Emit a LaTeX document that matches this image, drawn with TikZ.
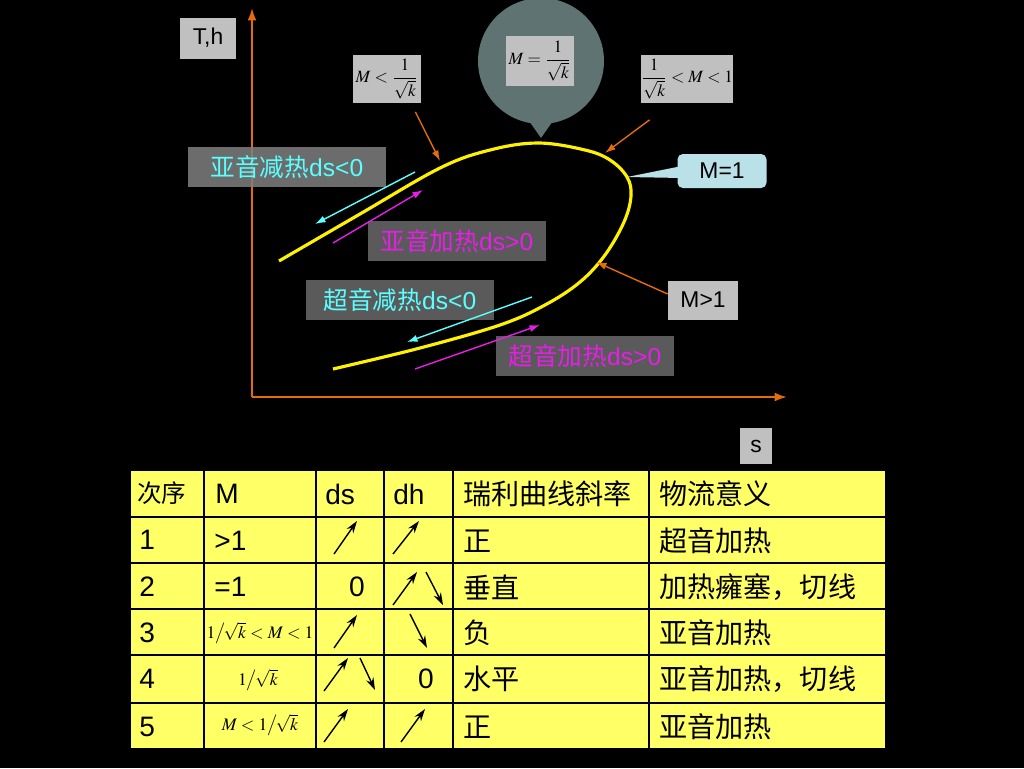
\documentclass[tikz,border=0pt]{standalone}
\usepackage{mathptmx}
\usepackage{fontspec}
\setmainfont{Liberation Sans}
\newfontfamily\cjk{Noto Sans CJK SC}
\usetikzlibrary{arrows.meta}
\definecolor{axisorange}{RGB}{228,108,10}
\definecolor{boxgray}{RGB}{192,192,192}
\definecolor{flowgray}{RGB}{90,90,90}
\definecolor{topgray}{RGB}{128,128,128}
\definecolor{bubblegray}{RGB}{96,115,115}
\definecolor{machblue}{RGB}{186,224,232}
\definecolor{cellyellow}{RGB}{255,255,102}
\definecolor{coolcyan}{RGB}{90,255,255}
\definecolor{heatmagenta}{RGB}{230,30,230}
\tikzstyle{axis}=[draw=axisorange,line width=1.1pt,-{Latex[length=7pt,width=5pt]}]
\tikzstyle{pointer}=[draw=axisorange,line width=0.8pt,-{Latex[length=6pt,width=4pt]}]
\tikzstyle{tag}=[fill=boxgray,inner sep=0pt,text=black]
\tikzstyle{frac}=[font=\fontsize{9.8}{11}\selectfont]
\tikzstyle{flow}=[fill=flowgray,inner sep=0pt,minimum height=0.8cm,font=\fontsize{14}{16}\selectfont]
\tikzstyle{cool}=[draw=coolcyan,line width=0.8pt,-{Latex[length=6pt,width=4pt]}]
\tikzstyle{heat}=[draw=heatmagenta,line width=0.8pt,-{Latex[length=6pt,width=4pt]}]
\tikzstyle{slope}=[draw=black,line width=0.8pt,-{Stealth[length=7pt,width=4.5pt]}]
\tikzstyle{cell}=[anchor=west,inner sep=0pt,font=\fontsize{16}{18}\selectfont]
\tikzstyle{rule}=[draw=black,line width=1pt]

\begin{document}
\begin{tikzpicture}[x=0.02cm,y=-0.02cm]
\fill[black] (0,0) rectangle (1024,768);
\useasboundingbox (0,0) rectangle (1024,768);
\coordinate (origin) at (252,397);
\coordinate (ytip) at (252,8);
\coordinate (xtip) at (787,397);
\coordinate (hitLow) at (440,161);
\coordinate (hitMid) at (605,153);
\coordinate (hitSup) at (596,262);
\coordinate (sonic) at (627,177);
\coordinate (peak) at (541,138);
\draw[axis] (origin) -- (ytip);
\draw[axis] (origin) -- (xtip);
\node[tag,minimum width=1.12cm,minimum height=0.82cm,font=\fontsize{13}{15}\selectfont] (Th) at (208,38) {T,h};
\node[tag,minimum width=0.64cm,minimum height=0.72cm,font=\fontsize{13}{15}\selectfont] (s) at (756,446) {s};
\node[circle,fill=bubblegray,minimum size=2.52cm,inner sep=0pt] (bubble) at (541,61) {};
\fill[bubblegray] (520,108) -- (peak) -- (562,108) -- cycle;
\node[tag,frac,minimum width=1.36cm,minimum height=1cm] (eqM) at (540,61) {$\displaystyle M=\frac{1}{\sqrt{k}}$};
\node[tag,frac,minimum width=1.36cm,minimum height=0.98cm] (lowM) at (387,79) {$\displaystyle M<\frac{1}{\sqrt{k}}$};
\node[tag,frac,minimum width=1.84cm,minimum height=0.98cm] (midM) at (687,79) {$\displaystyle \frac{1}{\sqrt{k}}<M<1$};
\node[fill=machblue,rounded corners=3pt,minimum width=1.78cm,minimum height=0.68cm,inner sep=0pt,font=\fontsize{13}{15}\selectfont] (Mone) at (722,171) {M=1};
\fill[machblue] ([xshift=0.1cm,yshift=0.1cm]Mone.west) -- (sonic) -- ([xshift=0.1cm,yshift=-0.14cm]Mone.west) -- cycle;
\node[tag,minimum width=1.4cm,minimum height=0.78cm,font=\fontsize{13}{15}\selectfont] (Mgt) at (703,300) {M>1};
\node[flow,fill=topgray,fill opacity=0.85,text opacity=1,text=coolcyan,minimum width=3.98cm] (subcool) at (287,167) {{\cjk 亚音减热}ds<0};
\node[flow,text=heatmagenta,minimum width=3.58cm] (subheat) at (457,241) {{\cjk 亚音加热}ds>0};
\node[flow,text=coolcyan,minimum width=3.78cm] (supcool) at (400,300) {{\cjk 超音减热}ds<0};
\node[flow,text=heatmagenta,minimum width=3.56cm] (supheat) at (585,356) {{\cjk 超音加热}ds>0};
\draw[yellow,line width=1.8pt] plot[smooth,tension=0.6] coordinates {(279,261) (360,214) (440,168) (490,150) (538,143) (585,150) (610,160) (627,177) (631,196) (624,222) (605,255) (580,282) (545,305) (500,325) (420,348) (333,369)};
\draw[pointer] ([shift={(-6,8)}]lowM.south east) -- (hitLow);
\draw[pointer] ([shift={(9,16)}]midM.south west) -- (hitMid);
\draw[pointer] ([yshift=0.12cm]Mgt.west) -- (hitSup);
\coordinate (c1a) at (415,172);
\coordinate (c1b) at (315,224);
\coordinate (h1a) at (333,243);
\coordinate (h1b) at (423,190);
\coordinate (c2a) at (532,297);
\coordinate (c2b) at (407,342);
\coordinate (h2a) at (415,369);
\coordinate (h2b) at (540,325);
\draw[cool] (c1a) -- (c1b);
\draw[heat] (h1a) -- (h1b);
\draw[cool] (c2a) -- (c2b);
\draw[heat] (h2a) -- (h2b);
\fill[cellyellow] (130,470) rectangle (886,749);
\draw[rule] (130,470) rectangle (886,749);
\draw[rule] (130,517) -- (886,517);
\draw[rule] (130,563) -- (886,563);
\draw[rule] (130,609) -- (886,609);
\draw[rule] (130,655) -- (886,655);
\draw[rule] (130,703) -- (886,703);
\draw[rule] (204,470) -- (204,749);
\draw[rule] (316,470) -- (316,749);
\draw[rule] (384,470) -- (384,749);
\draw[rule] (453,470) -- (453,749);
\draw[rule] (649,470) -- (649,749);
\node[cell,font=\cjk\fontsize{14}{16}\selectfont] (h1) at (137,493) {次序};
\node[cell] (h2) at (215,494) {M};
\node[cell] (h3) at (325,494) {ds};
\node[cell] (h4) at (393,494) {dh};
\node[cell,font=\cjk\fontsize{16}{18}\selectfont] (h5) at (463,494) {瑞利曲线斜率};
\node[cell,font=\cjk\fontsize{16}{18}\selectfont] (h6) at (659,494) {物流意义};
\node[cell] (n1) at (139,540) {1};
\node[cell] (n2) at (139,587) {2};
\node[cell] (n3) at (139,633) {3};
\node[cell] (n4) at (139,679) {4};
\node[cell] (n5) at (139,727) {5};
\node[cell] (m1) at (214,541) {>1};
\node[cell] (m2) at (214,587) {=1};
\node[inner sep=0pt,font=\fontsize{10}{12}\selectfont] (m3) at (260,633) {$1\big/\!\sqrt{k}<M<1$};
\node[inner sep=0pt,font=\fontsize{10}{12}\selectfont] (m4) at (258,680) {$1\big/\!\sqrt{k}$};
\node[inner sep=0pt,font=\fontsize{10}{12}\selectfont] (m5) at (260,725) {$M<1\big/\!\sqrt{k}$};
\node[inner sep=0pt,font=\fontsize{16}{18}\selectfont] (ds2) at (357,587) {0};
\node[inner sep=0pt,font=\fontsize{16}{18}\selectfont] (dh4) at (426,679) {0};
\node[cell,font=\cjk\fontsize{16}{18}\selectfont] (k1) at (463,541) {正};
\node[cell,font=\cjk\fontsize{16}{18}\selectfont] (k2) at (463,587) {垂直};
\node[cell,font=\cjk\fontsize{16}{18}\selectfont] (k3) at (463,633) {负};
\node[cell,font=\cjk\fontsize{16}{18}\selectfont] (k4) at (463,679) {水平};
\node[cell,font=\cjk\fontsize{16}{18}\selectfont] (k5) at (463,727) {正};
\node[cell,font=\cjk\fontsize{16}{18}\selectfont] (f1) at (659,541) {超音加热};
\node[cell,font=\cjk\fontsize{16}{18}\selectfont] (f2) at (659,587) {加热癕塞，切线};
\node[cell,font=\cjk\fontsize{16}{18}\selectfont] (f3) at (659,633) {亚音加热};
\node[cell,font=\cjk\fontsize{16}{18}\selectfont] (f4) at (659,679) {亚音加热，切线};
\node[cell,font=\cjk\fontsize{16}{18}\selectfont] (f5) at (659,727) {亚音加热};
\coordinate (a1) at (334,554);
\coordinate (b1) at (357,521);
\coordinate (a2) at (393,554);
\coordinate (b2) at (419,521);
\coordinate (a3) at (393,605);
\coordinate (b3) at (417,572);
\coordinate (a4) at (426,572);
\coordinate (b4) at (443,605);
\coordinate (a5) at (334,648);
\coordinate (b5) at (357,615);
\coordinate (a6) at (410,614);
\coordinate (b6) at (427,648);
\coordinate (a7) at (324,691);
\coordinate (b7) at (348,658);
\coordinate (a8) at (360,658);
\coordinate (b8) at (375,690);
\coordinate (a9) at (324,742);
\coordinate (b9) at (348,709);
\coordinate (a10) at (401,742);
\coordinate (b10) at (425,709);
\draw[slope] (a1) -- (b1);
\draw[slope] (a2) -- (b2);
\draw[slope] (a3) -- (b3);
\draw[slope] (a4) -- (b4);
\draw[slope] (a5) -- (b5);
\draw[slope] (a6) -- (b6);
\draw[slope] (a7) -- (b7);
\draw[slope] (a8) -- (b8);
\draw[slope] (a9) -- (b9);
\draw[slope] (a10) -- (b10);
\end{tikzpicture}
\end{document}
